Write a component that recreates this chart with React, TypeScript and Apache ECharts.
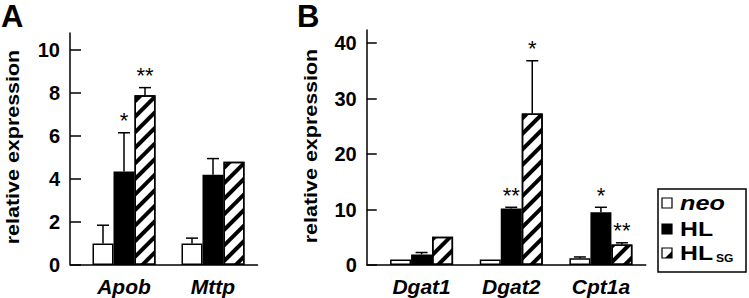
import React, { useEffect, useRef } from "react";
import * as echarts from "echarts";

// ---- data ----
const catsA = ["Apob", "Mttp"];
const neoA = [1.0, 1.0];
const neoAErr = [0.85, 0.25];
const hlA = [4.35, 4.2];
const hlAErr = [1.8, 0.75];
const sgA = [7.9, 4.8];
const sgAErr = [0.35, 0];
const starsA = [["", ""], ["*", ""], ["**", ""]];

const catsB = ["Dgat1", "Dgat2", "Cpt1a"];
const neoB = [1.0, 1.0, 1.2];
const neoBErr = [0, 0, 0.25];
const hlB = [1.9, 10.2, 9.5];
const hlBErr = [0.35, 0.2, 0.9];
const sgB = [5.1, 27.3, 3.7];
const sgBErr = [0, 9.5, 0.3];
const starsB = [["", "", ""], ["", "**", "*"], ["", "*", "**"]];

const ticksA = [0, 2, 4, 6, 8, 10];
const ticksB = [0, 10, 20, 30, 40];

const seriesNames = ["neo", "HL", "HLSG"];

// ---- layout constants ----
const BAR_W = 21;
const FONT = "'Liberation Sans', Arial, Helvetica, sans-serif";
const AXIS_Y = 265;
const gA = { left: 79.5, top: 33, width: 178, height: AXIS_Y - 33 };
const gB = { left: 376.75, top: 30, width: 269, height: AXIS_Y - 30 };
const offA = 9.5;
const offB = 10;

const hatch = {
  symbol: "rect",
  symbolSize: 1,
  dashArrayX: [[1, 0]],
  dashArrayY: [4, 6.5],
  rotation: -Math.PI / 4,
  color: "#000",
};

function barStyles(i: number) {
  if (i === 0) return { color: "#fff", borderColor: "#000", borderWidth: 1.5 };
  if (i === 1) return { color: "#000", borderColor: "#000", borderWidth: 1.5 };
  return { color: "#fff", borderColor: "#000", borderWidth: 1.5, decal: hatch };
}

function makeBars(axis: number, vals: number[][]) {
  return vals.map((v, i) => ({
    type: "bar",
    name: seriesNames[i],
    xAxisIndex: axis,
    yAxisIndex: axis,
    data: v,
    barWidth: BAR_W,
    barGap: "0%",
    itemStyle: barStyles(i),
    z: 2,
  }));
}

function makeErr(axis: number, vals: number[][], errs: number[][], stars: string[][]) {
  const items: number[][] = [];
  const starList: string[] = [];
  vals.forEach((v, s) => {
    v.forEach((m, c) => {
      items.push([c, m, errs[s][c], s]);
      starList.push(stars[s][c]);
    });
  });
  return {
    type: "custom",
    xAxisIndex: axis,
    yAxisIndex: axis,
    data: items,
    encode: { x: 0, y: 1 },
    z: 5,
    renderItem: (params: any, api: any) => {
      const it = items[params.dataIndex];
      const [c, m, e, s] = it;
      const p0 = api.coord([c, m]);
      const p1 = api.coord([c, m + e]);
      const x = p0[0] + (s - 1) * BAR_W;
      const children: any[] = [];
      if (e > 0) {
        children.push({
          type: "line",
          shape: { x1: x, y1: p0[1], x2: x, y2: p1[1] },
          style: { stroke: "#000", lineWidth: 1.5 },
        });
        children.push({
          type: "line",
          shape: { x1: x - 6, y1: p1[1], x2: x + 6, y2: p1[1] },
          style: { stroke: "#000", lineWidth: 1.5 },
        });
      }
      const st = starList[params.dataIndex];
      if (st) {
        children.push({
          type: "text",
          x: x,
          y: p1[1] - 1,
          style: {
            text: st,
            font: `22px ${FONT}`,
            fill: "#000",
            align: "center",
            verticalAlign: "bottom",
          },
        });
      }
      return { type: "group", children };
    },
  };
}

function yAxisCfg(grid: number, max: number, ticks: number[], offset: number, tickLen: number) {
  return {
    type: "value",
    gridIndex: grid,
    min: 0,
    max,
    offset,
    axisLine: { show: true, lineStyle: { color: "#000", width: 1.5 } },
    axisTick: {
      show: true,
      inside: true,
      length: tickLen,
      customValues: ticks,
      lineStyle: { color: "#000", width: 1.5 },
    },
    axisLabel: {
      customValues: ticks,
      color: "#000",
      fontSize: 20,
      fontWeight: "bold",
      fontFamily: FONT,
      margin: 10,
    },
    splitLine: { show: false },
  };
}

function xAxisCfg(grid: number, cats: string[]) {
  return {
    type: "category",
    gridIndex: grid,
    data: cats,
    axisLine: { show: true, lineStyle: { color: "#000", width: 1.5 } },
    axisTick: { show: false },
    axisLabel: {
      color: "#000",
      fontSize: 21,
      fontWeight: "bold",
      fontStyle: "italic",
      fontFamily: FONT,
      margin: 11,
    },
  };
}

function txt(x: number, y: number, text: string, font: string, extra: any = {}) {
  return {
    type: "text",
    x,
    y,
    style: { text, font, fill: "#000", align: "left", verticalAlign: "middle" },
    ...extra,
  };
}

function yName(x: number, y: number) {
  return {
    type: "text",
    x,
    y,
    rotation: Math.PI / 2,
    scaleX: 1.13,
    style: {
      text: "relative expression",
      font: `bold 19px ${FONT}`,
      fill: "#000",
      align: "center",
      verticalAlign: "middle",
    },
  };
}

export default function App() {
  const ref = useRef<HTMLDivElement>(null);
  useEffect(() => {
    if (!ref.current) return;
    const chart = echarts.init(ref.current, null, { renderer: "svg" });
    const maxA = gA.height / ((AXIS_Y - 50) / 10);
    const maxB = gB.height / ((AXIS_Y - 43) / 40);
    const lx = 658;
    const ly = 189;
    chart.setOption({
      animation: false,
      backgroundColor: "#fff",
      grid: [
        { ...gA, outerBoundsMode: "none", containLabel: false },
        { ...gB, outerBoundsMode: "none", containLabel: false },
      ],
      xAxis: [xAxisCfg(0, catsA), xAxisCfg(1, catsB)],
      yAxis: [
        yAxisCfg(0, maxA, ticksA, offA, 11),
        yAxisCfg(1, maxB, ticksB, offB, 10),
      ],
      series: [
        ...makeBars(0, [neoA, hlA, sgA]),
        ...makeBars(1, [neoB, hlB, sgB]),
        makeErr(0, [neoA, hlA, sgA], [neoAErr, hlAErr, sgAErr], starsA),
        makeErr(1, [neoB, hlB, sgB], [neoBErr, hlBErr, sgBErr], starsB),
      ],
      graphic: [
        {
          type: "line",
          shape: { x1: gA.left - offA, y1: AXIS_Y, x2: gA.left, y2: AXIS_Y },
          style: { stroke: "#000", lineWidth: 1.5 },
        },
        {
          type: "line",
          shape: { x1: gB.left - offB, y1: AXIS_Y, x2: gB.left, y2: AXIS_Y },
          style: { stroke: "#000", lineWidth: 1.5 },
        },
        txt(1, 16, "A", `bold 31px ${FONT}`),
        txt(297, 16, "B", `bold 31px ${FONT}`),
        yName(12, 147),
        yName(310, 146),
        {
          type: "rect",
          shape: { x: lx, y: ly, width: 88, height: 83 },
          style: { fill: "#fff", stroke: "#000", lineWidth: 1.5 },
        },
        {
          type: "rect",
          shape: { x: lx + 4, y: 198, width: 10, height: 10 },
          style: { fill: "#fff", stroke: "#000", lineWidth: 1.2 },
        },
        {
          type: "rect",
          shape: { x: lx + 4, y: 224, width: 10, height: 10 },
          style: { fill: "#000", stroke: "#000", lineWidth: 1.2 },
        },
        {
          type: "rect",
          shape: { x: lx + 4, y: 248, width: 10, height: 10 },
          style: { fill: "#fff", stroke: "#000", lineWidth: 1.2 },
        },
        {
          type: "polygon",
          shape: { points: [[lx + 7, 258], [lx + 14, 251], [lx + 14, 258]] },
          style: { fill: "#000" },
        },
        txt(lx + 22, 203, "neo", `italic bold 21px ${FONT}`, { scaleX: 1.2 }),
        txt(lx + 22, 229, "HL", `bold 21px ${FONT}`, { scaleX: 1.18 }),
        txt(lx + 22, 253, "HL", `bold 21px ${FONT}`, { scaleX: 1.18 }),
        txt(lx + 58, 258, "SG", `bold 11px ${FONT}`, { scaleX: 1.1 }),
      ],
    });
    return () => chart.dispose();
  }, []);
  return (
    <div
      ref={ref}
      style={{ position: "fixed", left: 0, top: 0, width: 749, height: 298, background: "#fff" }}
    />
  );
}
